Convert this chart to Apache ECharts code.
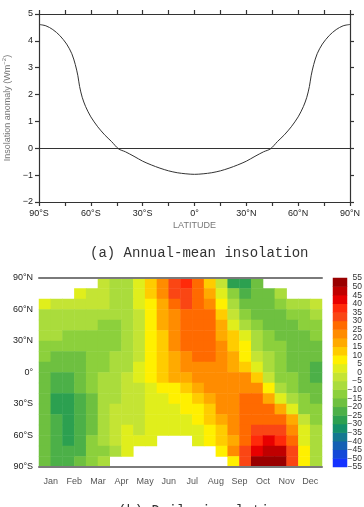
<!DOCTYPE html>
<html>
<head>
<meta charset="utf-8">
<script src="https://cdn.jsdelivr.net/npm/echarts@6/dist/echarts.min.js"></script>
<style>
html, body { margin: 0; padding: 0; background: #fff; }
#chart { width: 364px; height: 507px; }
</style>
</head>
<body>
<div id="chart"></div>
<script>
// (a) annual-mean insolation anomaly against latitude
var annLat = [-90, -86, -82, -78, -74, -71, -69, -67.5, -66.5, -65, -63, -60, -56, -52, -48, -44, -40, -35, -30, -25, -20, -15, -10, -5,
    0, 5, 10, 15, 20, 25, 30, 35, 40, 44, 48, 52, 56, 60, 63, 65, 66.5, 67.5, 69, 71, 74, 78, 82, 86, 90];
var annVal = [4.61, 4.56, 4.42, 4.20, 3.88, 3.52, 3.12, 2.70, 2.30, 1.90, 1.55, 1.17, 0.80, 0.50, 0.25, -0.02, -0.13, -0.30, -0.48, -0.62, -0.74, -0.84, -0.91, -0.95,
    -0.97, -0.95, -0.91, -0.84, -0.74, -0.62, -0.48, -0.30, -0.13, -0.02, 0.25, 0.50, 0.80, 1.17, 1.55, 1.90, 2.30, 2.70, 3.12, 3.52, 3.88, 4.20, 4.42, 4.56, 4.61];

// (b) daily insolation anomaly, rows = 10 degree bands from the north pole down, columns = half months
var months = ['Jan', 'Feb', 'Mar', 'Apr', 'May', 'Jun', 'Jul', 'Aug', 'Sep', 'Oct', 'Nov', 'Dec'];
var halfMonths = ['Jan1', 'Jan2', 'Feb1', 'Feb2', 'Mar1', 'Mar2', 'Apr1', 'Apr2', 'May1', 'May2', 'Jun1', 'Jun2',
    'Jul1', 'Jul2', 'Aug1', 'Aug2', 'Sep1', 'Sep2', 'Oct1', 'Oct2', 'Nov1', 'Nov2', 'Dec1', 'Dec2'];
var rowLats = [85, 75, 65, 55, 45, 35, 25, 15, 5, -5, -15, -25, -35, -45, -55, -65, -75, -85];
var n = null; // polar night, nothing drawn
var daily = [
    [n, n, n, n, n, -3, -9, -8, 1, 11, 22, 32, 36, 27, 12, -5, -27, -30, -18, n, n, n, n, n],
    [n, n, n, 1, -2, -5, -9, -8, 0, 10, 22, 31, 33, 29, 17, 1, -12, -21, -20, -17, -10, n, n, n],
    [0, -2, -3, -3, -4, -5, -8, -7, 0, 9, 19, 26, 30, 27, 20, 6, -7, -16, -18, -17, -14, -10, -6, -3],
    [-6, -6, -7, -7, -8, -9, -10, -8, -1, 8, 17, 24, 27, 28, 25, 10, -4, -12, -17, -18, -17, -14, -11, -8],
    [-8, -8, -9, -9, -10, -11, -11, -8, -1, 7, 16, 22, 27, 28, 25, 15, 4, -6, -13, -17, -18, -17, -14, -11],
    [-10, -10, -11, -12, -12, -12, -11, -8, -2, 7, 14, 21, 26, 27, 25, 17, 10, 0, -9, -13, -16, -17, -16, -13],
    [-12, -13, -13, -14, -14, -13, -11, -7, -2, 6, 13, 20, 25, 26, 25, 20, 13, 5, -6, -11, -15, -17, -18, -16],
    [-14, -16, -16, -16, -15, -13, -10, -7, -1, 7, 13, 19, 22, 25, 25, 21, 16, 8, -1, -9, -14, -17, -19, -19],
    [-17, -20, -20, -17, -14, -11, -8, -6, 0, 8, 14, 18, 21, 22, 23, 22, 19, 12, 2, -7, -12, -16, -19, -21],
    [-18, -22, -22, -17, -13, -10, -7, -5, 0, 6, 10, 15, 19, 21, 22, 22, 21, 21, 11, -1, -11, -15, -19, -21],
    [-19, -24, -25, -20, -15, -10, -7, -4, -2, 3, 7, 9, 13, 18, 21, 23, 24, 23, 20, 8, -6, -12, -16, -20],
    [-19, -26, -27, -22, -16, -10, -6, -3, -2, 1, 3, 5, 8, 12, 17, 20, 24, 27, 26, 19, 4, -8, -14, -17],
    [-20, -26, -28, -23, -16, -10, -5, -2, -2, 0, 2, 3, 5, 9, 14, 20, 23, 26, 28, 26, 19, 0, -11, -14],
    [-20, -25, -28, -24, -16, -10, -5, -1, -1, 1, 2, 3, 4, 7, 11, 17, 22, 26, 28, 28, 26, 15, -3, -11],
    [-19, -24, -27, -23, -16, -9, -4, 0, -1, 1, 2, 2, 3, 4, 8, 14, 21, 27, 31, 32, 31, 20, 0, -10],
    [-18, -23, -26, -22, -14, -9, -4, 0, 1, 3, n, n, n, 3, 6, 12, 19, 27, 35, 40, 38, 27, 3, -9],
    [-17, -22, -25, -21, -14, -12, -6, 1, n, n, n, n, n, n, n, 8, 20, 30, 42, 48, 45, 30, 5, -8],
    [-16, -21, -24, -20, -13, -6, n, n, n, n, n, n, n, n, n, n, 5, 30, 50, 54, 50, 32, 5, -8]
];

// contour levels (lower bound of each band), their colours, and colour bar tick labels
var levels = [-55, -50, -45, -40, -35, -30, -25, -20, -15, -10, -5, 0, 5, 10, 15, 20, 25, 30, 35, 40, 45, 50];
var levelColors = ['#1432ff', '#1448d8', '#1460b4', '#147890', '#14906a', '#2ca050', '#4cb048', '#6ec040',
    '#8cd03c', '#aadc3c', '#c4e434', '#e0ee1c', '#fff000', '#ffcc00', '#ffaa00', '#ff8c00', '#ff6a00',
    '#fa4614', '#ff2a0a', '#e80000', '#c00000', '#990000'];
var barTicks = [-55, -50, -45, -40, -35, -30, -25, -20, -15, -10, -5, 0, 5, 10, 15, 20, 25, 30, 35, 40, 45, 50, 55];

function minus(v) {
    v = Number(v);
    return v < 0 ? '\u2212' + Math.abs(v) : '' + v;
}
function latLabel(v) {
    if (v % 30 !== 0) return '';
    if (v === 0) return '0°';
    return Math.abs(v) + (v < 0 ? '°S' : '°N');
}

var heatData = [];
for (var r = 0; r < rowLats.length; r++) {
    for (var c = 0; c < halfMonths.length; c++) {
        if (daily[r][c] !== null) heatData.push([c, rowLats.length - 1 - r, daily[r][c]]);
    }
}
var barData = levels.map(function (lo, i) { return [0, i, lo + 2.5]; });

var font = 'Liberation Sans';
var darkLine = { color: '#333', width: 1.2 };
var greyLine = { color: '#7a7a7a', width: 2 };

var chart = echarts.init(document.getElementById('chart'));
chart.setOption({
    animation: false,
    backgroundColor: '#fff',
    textStyle: { fontFamily: font },
    title: [
        { text: '(a) Annual-mean insolation', left: 85, top: 241,
          textStyle: { fontFamily: 'Liberation Mono', fontSize: 14, fontWeight: 'normal', color: '#333' } },
        { text: '(b) Daily insolation', left: 113, top: 499,
          textStyle: { fontFamily: 'Liberation Mono', fontSize: 14, fontWeight: 'normal', color: '#333' } }
    ],
    grid: [
        { left: 39, top: 14, width: 311, height: 188, outerBoundsMode: 'none', containLabel: false },
        { left: 39, top: 278, width: 283, height: 189, outerBoundsMode: 'none', containLabel: false },
        { left: 333, top: 278, width: 14, height: 189, outerBoundsMode: 'none', containLabel: false }
    ],
    xAxis: [
        { gridIndex: 0, type: 'value', min: -90, max: 90, interval: 15, position: 'bottom',
          axisLine: { onZero: false, lineStyle: darkLine }, axisTick: { length: 4, lineStyle: darkLine }, splitLine: { show: false },
          axisLabel: { formatter: latLabel, fontSize: 9, color: '#222', margin: 7 },
          name: 'LATITUDE', nameLocation: 'middle', nameGap: 19, nameTextStyle: { fontSize: 9, color: '#777' } },
        { gridIndex: 0, type: 'value', min: -90, max: 90, interval: 15, position: 'top',
          axisLine: { onZero: false, lineStyle: darkLine }, axisTick: { length: 4, lineStyle: darkLine },
          axisLabel: { show: false }, splitLine: { show: false } },
        { gridIndex: 1, type: 'category', data: halfMonths, show: false },
        { gridIndex: 1, type: 'category', data: months, position: 'bottom', boundaryGap: true, z: 10,
          axisLine: { onZero: false, lineStyle: greyLine }, axisTick: { length: 5, interval: 0, lineStyle: greyLine },
          axisLabel: { interval: 0, fontSize: 9, color: '#555', margin: 10 } },
        { gridIndex: 1, type: 'category', data: months, position: 'top', boundaryGap: true, z: 10,
          axisLine: { onZero: false, lineStyle: greyLine }, axisTick: { length: 5, interval: 0, lineStyle: greyLine },
          axisLabel: { show: false } },
        { gridIndex: 2, type: 'category', data: ['bar'], show: false }
    ],
    yAxis: [
        { gridIndex: 0, type: 'value', min: -2, max: 5, interval: 1, position: 'left',
          axisLine: { onZero: false, lineStyle: darkLine }, axisTick: { length: 4, lineStyle: darkLine }, splitLine: { show: false },
          axisLabel: { formatter: minus, fontSize: 9, color: '#222', margin: 6 },
          name: 'Insolation anomaly (Wm{sup|\u22122})', nameLocation: 'middle', nameGap: 22, nameRotate: 90,
          nameTextStyle: { fontSize: 9, color: '#777', rich: { sup: { fontSize: 6, color: '#777', verticalAlign: 'top', padding: [0, 0, 5, 0] } } } },
        { gridIndex: 0, type: 'value', min: -2, max: 5, interval: 1, position: 'right',
          axisLine: { onZero: false, lineStyle: darkLine }, axisTick: { length: 4, lineStyle: darkLine },
          axisLabel: { show: false }, splitLine: { show: false } },
        { gridIndex: 1, type: 'category', data: rowLats.slice().reverse(), show: false },
        { gridIndex: 1, type: 'value', min: -90, max: 90, interval: 15, position: 'left', z: 10,
          axisLine: { onZero: false, lineStyle: greyLine }, axisTick: { length: 5, lineStyle: greyLine }, splitLine: { show: false },
          axisLabel: { formatter: latLabel, fontSize: 9, color: '#222', margin: 6 },
          name: 'LATITUDE', nameLocation: 'middle', nameGap: 30, nameRotate: 90, nameTextStyle: { fontSize: 9, color: '#333' } },
        { gridIndex: 1, type: 'value', min: -90, max: 90, interval: 15, position: 'right', z: 10,
          axisLine: { onZero: false, lineStyle: greyLine }, axisTick: { length: 5, lineStyle: greyLine },
          axisLabel: { show: false }, splitLine: { show: false } },
        { gridIndex: 2, type: 'category', data: levels, show: false },
        { gridIndex: 2, type: 'category', data: barTicks, position: 'right', boundaryGap: false,
          axisLine: { show: false }, axisTick: { show: false }, splitLine: { show: false },
          axisLabel: { interval: 0, formatter: minus, fontSize: 8.5, color: '#333', align: 'right', margin: 15 } }
    ],
    visualMap: {
        type: 'piecewise', show: false, dimension: 2, seriesIndex: [1, 2],
        pieces: levels.map(function (lo, i) { return { gte: lo, lt: lo + 5, color: levelColors[i] }; })
    },
    series: [
        {
            type: 'line', xAxisIndex: 0, yAxisIndex: 0, symbol: 'none', smooth: 0.3,
            data: annLat.map(function (x, i) { return [x, annVal[i]]; }),
            lineStyle: { color: '#333', width: 1 },
            markLine: { silent: true, symbol: 'none', label: { show: false },
                lineStyle: { color: '#333', width: 1, type: 'solid' }, data: [{ yAxis: 0 }] }
        },
        { type: 'heatmap', xAxisIndex: 2, yAxisIndex: 2, data: heatData, itemStyle: { borderWidth: 0 } },
        { type: 'heatmap', xAxisIndex: 5, yAxisIndex: 5, data: barData }
    ]
});
</script>
</body>
</html>
